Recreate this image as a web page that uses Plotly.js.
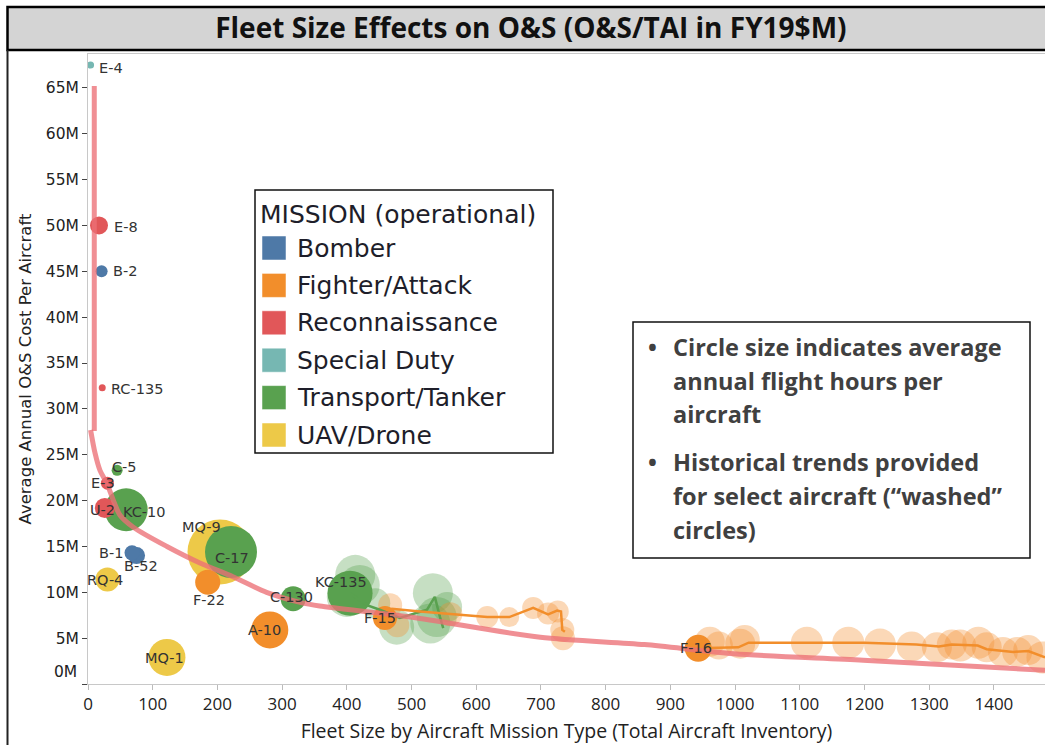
<!DOCTYPE html>
<html>
<head>
<meta charset="utf-8">
<script src="https://cdn.plot.ly/plotly-3.0.1.min.js"></script>
<style>
  html, body { margin:0; padding:0; background:#fff; }
  #chart { width:1045px; height:745px; }
</style>
</head>
<body>
<div id="chart"></div>
<script>
// ---------- DATA ----------
const categories = ['Bomber','Fighter/Attack','Reconnaissance','Special Duty','Transport/Tanker','UAV/Drone'];
const catColors  = ['#4e79a7','#f28e2b','#e15759','#76b7b2','#59a14f','#edc948'];

// current (FY19) aircraft
const aircraft  = ['MQ-9','C-17','KC-135','KC-10','A-10','MQ-1','F-16','F-22','C-130','RQ-4','F-15','U-2','E-8','B-52','B-1','E-3','B-2','C-5','E-4','RC-135'];
const mission   = ['UAV/Drone','Transport/Tanker','Transport/Tanker','Transport/Tanker','Fighter/Attack','UAV/Drone','Fighter/Attack','Fighter/Attack','Transport/Tanker','UAV/Drone','Fighter/Attack','Reconnaissance','Reconnaissance','Bomber','Bomber','Reconnaissance','Bomber','Transport/Tanker','Special Duty','Reconnaissance'];
const fleetSize = [204,221,405,59,281,122,943,185,317,30,459,26,17,75,68,30,21,45,4,22];
const osCostM   = [14.4,14.4,9.9,19.0,5.9,2.9,3.9,11.1,9.3,11.4,7.2,19.2,50.0,14.0,14.3,21.9,45.0,23.3,67.5,32.3];
const flightHrs = [65,52,45,43,37,37,27,25,25,24,24,20,18,17,15,13,12,11,7,7];

// historical ("washed") points
const kc135HistFleet = [413,400,420,444,477,533,539,529,555];
const kc135HistCost  = [11.9,9.5,10.8,8.8,6.2,9.9,7.3,6.6,8.4];
const kc135HistHrs   = [40,40,40,30,35,40,40,40,30];
const kc135TrailFleet = [405,431,451,482,524,536,544,549];
const kc135TrailCost  = [9.9,8.6,8.1,7.2,8.1,9.5,7.3,6.1];

const f15HistFleet = [467,478,560,617,651,688,711,726,733,734];
const f15HistCost  = [8.6,6.4,7.6,7.3,7.3,8.3,7.7,7.9,5.9,5.0];
const f15HistHrs   = [24,24,24,22,20,22,22,22,24,24];
const f15TrailFleet = [459,470,513,560,617,651,688,711,725,731,733,737];
const f15TrailCost  = [7.2,8.2,7.9,7.6,7.3,7.3,8.3,7.6,8.0,7.9,5.9,5.7];

const f16HistFleet = [961,975,1008,1015,1111,1175,1224,1273,1312,1335,1348,1376,1389,1414,1436,1453,1475];
const f16HistCost  = [4.6,4.2,4.4,4.8,4.5,4.5,4.3,4.1,4.0,4.3,4.2,4.5,4.0,3.5,3.5,3.7,2.9];
const f16HistHrs   = [30,28,30,30,32,32,32,30,30,30,32,32,30,30,30,30,32];
const f16TrailFleet = [943,1005,1021,1110,1200,1280,1315,1335,1375,1389,1430,1453,1479];
const f16TrailCost  = [3.9,4.0,4.5,4.5,4.5,4.3,4.1,4.3,4.2,3.8,3.5,3.6,2.9];

// fleet-size trend line
const trendFleet = [9.7,9.7,null,4,10.8,18.5,29,49.5,70,122,173,224,276,328,358,498,699,860,998,1198,1479];
const trendCost  = [65.2,27.6,null,27.7,25.2,23.3,21.9,18.4,17.1,15.0,13.2,11.7,10.0,8.9,8.5,7.3,5.1,4.3,3.3,2.6,1.5];

const yTickVals = [0,5,10,15,20,25,30,35,40,45,50,55,60,65];
const xTickVals = [0,100,200,300,400,500,600,700,800,900,1000,1100,1200,1300,1400];

const legendTitle = 'MISSION (operational)';
const noteLines = [
  ['Circle size indicates average', 'annual flight hours per', 'aircraft'],
  ['Historical trends provided', 'for select aircraft (\u201cwashed\u201d', 'circles)']
];

// ---------- STYLE ----------
const colorOf = m => catColors[categories.indexOf(m)];
const labelFont = {family:'DejaVu Sans, sans-serif', size:14.5, color:'#333'};
// label placement [anchor, xshift, yshift]
const labelPlace = {
  'E-4':['left',6,-3],'E-8':['left',13,-2],'B-2':['left',9,0],'RC-135':['left',7,-1],
  'C-5':['center',7,3],'E-3':['center',-4,0],'U-2':['center',-2,-2],'KC-10':['center',18,-2],
  'B-1':['center',-21,0],'B-52':['center',4,-10],'RQ-4':['center',-2,-1],'MQ-9':['center',-19,25],
  'C-17':['center',1,-6],'F-22':['center',1,-18],'C-130':['center',-2,2],'A-10':['center',-5,0],
  'MQ-1':['center',-2,-1],'KC-135':['center',-9,11],'F-15':['center',-5,0],'F-16':['center',-2,0]
};

const washed = (x, y, s, color) => ({
  type:'scatter', mode:'markers', x:x, y:y, hoverinfo:'skip', showlegend:false,
  marker:{size:s, sizemode:'diameter', color:color, opacity:0.34, line:{width:0}}
});
const trail = (x, y, color) => ({
  type:'scatter', mode:'lines', x:x, y:y, hoverinfo:'skip', showlegend:false,
  line:{color:color, width:2.5}
});

const traces = [
  washed(kc135HistFleet, kc135HistCost, kc135HistHrs, colorOf('Transport/Tanker')),
  washed(f15HistFleet, f15HistCost, f15HistHrs, colorOf('Fighter/Attack')),
  washed(f16HistFleet, f16HistCost, f16HistHrs, colorOf('Fighter/Attack')),
  {
    type:'scatter', mode:'markers', x:fleetSize, y:osCostM, text:aircraft, showlegend:false,
    marker:{size:flightHrs, sizemode:'diameter', color:mission.map(colorOf), opacity:1, line:{width:0}}
  },
  trail(kc135TrailFleet, kc135TrailCost, colorOf('Transport/Tanker')),
  trail(f15TrailFleet, f15TrailCost, colorOf('Fighter/Attack')),
  trail(f16TrailFleet, f16TrailCost, colorOf('Fighter/Attack')),
  {
    type:'scatter', mode:'lines', x:trendFleet, y:trendCost, hoverinfo:'skip', showlegend:false,
    connectgaps:false,
    line:{color:'rgba(236,112,118,0.78)', width:5, shape:'spline', smoothing:0.8}
  }
];

// geometry helpers (plot area: x 88..1045, y 54..684)
const L = 88, R = 1045, T = 54, B = 684;
const px = v => (v - L) / (R - L);
const py = v => (B - v) / (B - T);

const annotations = [];
const shapes = [];

// aircraft labels
aircraft.forEach((a, i) => {
  const p = labelPlace[a];
  annotations.push({
    x: fleetSize[i], y: osCostM[i], xref:'x', yref:'y', text:a, showarrow:false,
    xanchor:p[0], yanchor:'middle', xshift:p[1], yshift:p[2], font:labelFont
  });
});

// 0M tick label (Tableau pushes it inside)
annotations.push({x:px(79), y:py(672), xref:'paper', yref:'paper', text:'0M', showarrow:false,
  xanchor:'right', yanchor:'middle', font:{family:'DejaVu Sans, sans-serif', size:15.5, color:'#222'}});

// title bar & frame
shapes.push({type:'rect', xref:'paper', yref:'paper', x0:px(7.5), x1:px(1060), y0:py(50), y1:py(7),
  fillcolor:'#d4d4d4', line:{color:'#000', width:2.5}, layer:'below'});
shapes.push({type:'line', xref:'paper', yref:'paper', x0:px(7.5), x1:px(7.5), y0:py(50), y1:py(760),
  line:{color:'#222', width:2}});

// legend box
const legFont = {family:'DejaVu Sans, sans-serif', size:25, color:'#1e1e2a'};
shapes.push({type:'rect', xref:'paper', yref:'paper', x0:px(255), x1:px(553), y0:py(453), y1:py(190),
  fillcolor:'#fff', line:{color:'#111', width:1.5}});
annotations.push({x:px(258), y:py(214), xref:'paper', yref:'paper', text:legendTitle, showarrow:false,
  xanchor:'left', yanchor:'middle', font:legFont});
categories.forEach((c, i) => {
  const cy = 248 + i * 37.4;
  shapes.push({type:'rect', xref:'paper', yref:'paper', x0:px(262), x1:px(286), y0:py(cy+12), y1:py(cy-12),
    fillcolor:catColors[i], line:{color:'rgba(255,255,255,0.5)', width:1}});
  annotations.push({x:px(295), y:py(cy), xref:'paper', yref:'paper', text:c, showarrow:false,
    xanchor:'left', yanchor:'middle', font:legFont});
});

// note box
shapes.push({type:'rect', xref:'paper', yref:'paper', x0:px(633), x1:px(1030), y0:py(558), y1:py(322),
  fillcolor:'#fff', line:{color:'#111', width:1.5}});
const noteFont = {family:'Open Sans, sans-serif', size:23.5, color:'#404040', weight:'bold'};
const lineYs = [[347,381,414],[462,496,530]];
noteLines.forEach((grp, g) => {
  annotations.push({x:px(652), y:py(lineYs[g][0]), xref:'paper', yref:'paper', text:'\u2022', showarrow:false,
    xanchor:'center', yanchor:'middle', font:noteFont});
  grp.forEach((t, k) => {
    annotations.push({x:px(671), y:py(lineYs[g][k]), xref:'paper', yref:'paper', text:t, showarrow:false,
      xanchor:'left', yanchor:'middle', font:noteFont});
  });
});

const layout = {
  width:1045, height:745,
  margin:{l:L, r:0, t:T, b:745-B, pad:0},
  paper_bgcolor:'#fff', plot_bgcolor:'#fff',
  showlegend:false,
  title:{text:'Fleet Size Effects on O&S (O&S/TAI in FY19$M)', x:0.508, xanchor:'center', xref:'container',
    y:1-28/745, yanchor:'middle', yref:'container',
    font:{family:'Open Sans, sans-serif', size:28, color:'#111', weight:'bold'}},
  xaxis:{
    range:[0,1479], tickvals:xTickVals, ticktext:xTickVals.map(String),
    showgrid:false, zeroline:false, showline:true, linecolor:'#c8c8c8', linewidth:1, mirror:true,
    ticks:'outside', ticklen:5, tickcolor:'#bbb',
    tickfont:{family:'Open Sans, sans-serif', size:17, color:'#222'},
    title:{text:'Fleet Size by Aircraft Mission Type (Total Aircraft Inventory)', standoff:9,
      font:{family:'Open Sans, sans-serif', size:19.5, color:'#222'}}
  },
  yaxis:{
    range:[0,68.7], tickvals:yTickVals, ticktext:yTickVals.map(v => v === 0 ? '' : v + 'M'),
    showgrid:false, zeroline:false, showline:true, linecolor:'#c8c8c8', linewidth:1,
    ticks:'outside', ticklen:5, tickcolor:'#444',
    tickfont:{family:'DejaVu Sans, sans-serif', size:15.5, color:'#222'},
    title:{text:'Average Annual O&S Cost Per Aircraft', standoff:10,
      font:{family:'DejaVu Sans, sans-serif', size:16.5, color:'#222'}}
  },
  shapes:shapes,
  annotations:annotations
};

Plotly.newPlot('chart', traces, layout, {displayModeBar:false, staticPlot:true});
</script>
</body>
</html>
